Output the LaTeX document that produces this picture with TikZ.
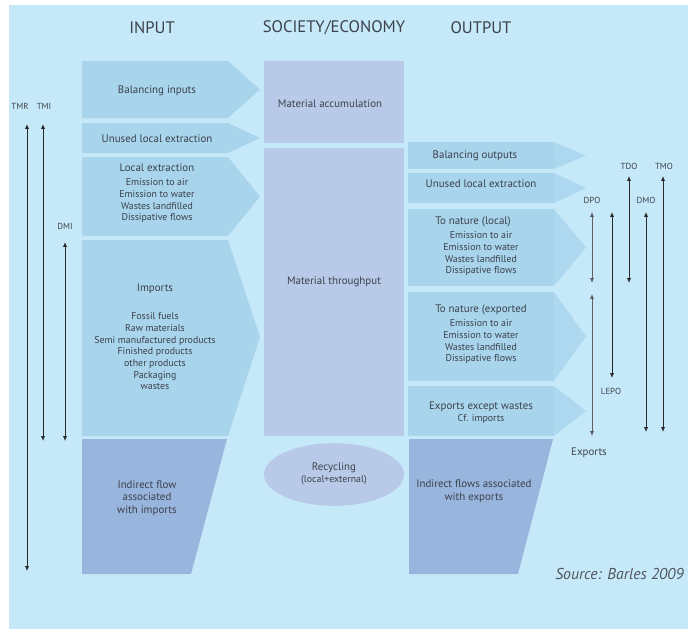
\documentclass[tikz,border=0pt]{standalone}
\usepackage{fontspec}
\setmainfont{PT Sans}
\usetikzlibrary{arrows.meta,shapes.geometric}
\definecolor{bgblue}{HTML}{C6E9F9}
\definecolor{flowblue}{HTML}{A8D4EC}
\definecolor{tipblue}{HTML}{AED8EF}
\definecolor{stockblue}{HTML}{B8CAE8}
\definecolor{indirectblue}{HTML}{98B5DD}
\definecolor{inktext}{HTML}{3C414B}
\definecolor{inkline}{HTML}{2A2A2A}
\begin{document}
\begin{tikzpicture}[x=0.75pt,y=-0.75pt,
  title/.style={text=inktext,font=\fontsize{12.5}{14}\selectfont},
  lbl/.style={text=inktext,font=\fontsize{8.2}{9.5}\selectfont,align=center,inner sep=0pt},
  sublist/.style={text=inktext,font=\fontsize{7.4}{8.75}\selectfont,align=center,inner sep=0pt},
  dimlbl/.style={text=inktext,font=\fontsize{6.6}{8}\selectfont,inner sep=0pt},
  flow/.style={fill=flowblue},
  outtip/.style={fill=tipblue},
  stock/.style={fill=stockblue},
  indirect/.style={fill=indirectblue},
  dimarrow/.style={draw=inkline,line width=0.75pt,
    {Latex[length=3.6pt,width=3.2pt]}-{Latex[length=3.6pt,width=3.2pt]}}]
\useasboundingbox (0,0) rectangle (688,629);
\clip (0,0) rectangle (688,629);
\fill[white] (0,0) rectangle (688,629);
\fill[bgblue] (9,5) rectangle (688,629);

% column headings
\node[title] (tin) at (152,28) {INPUT};
\node[title] (tsoc) at (334,28) {SOCIETY/ECONOMY};
\node[title] (tout) at (481,28) {OUTPUT};

% input flows
\fill[flow] (82,61) -- (228,61) -- (260,89.5) -- (228,118) -- (82,118) -- cycle;
\fill[flow] (82,123) -- (228,123) -- (260,138) -- (228,153) -- (82,153) -- cycle;
\fill[flow] (82,157) -- (228,157) -- (260,196.5) -- (228,236) -- (82,236) -- cycle;
\fill[flow] (82,240) -- (228,240) -- (260,337) -- (228,436) -- (82,436) -- cycle;
\fill[indirect] (82,439) -- (227,439) -- (191,574) -- (82,574) -- cycle;

\node[lbl] (balin) at (157,91) {Balancing inputs};
\node[lbl] (unusedin) at (157,139) {Unused local extraction};
\node[lbl] (locext) at (157,168) {Local extraction};
\node[sublist,anchor=north] (locextl) at (157,178.5) {Emission to air\\Emission to water\\Wastes landfilled\\Dissipative flows};
\node[lbl] (imports) at (155,289) {Imports};
\node[sublist,anchor=north] (importsl) at (155,312.5) {Fossil fuels\\Raw materials\\Semi manufactured products\\Finished products\\other products\\Packaging\\wastes};
\node[lbl] (indin) at (147,498) {Indirect flow\\associated\\with imports};

% society / economy stocks
\fill[stock] (264,61) rectangle (404,143);
\fill[stock] (264,148) rectangle (404,436);
\node[lbl] (accum) at (330,104) {Material accumulation};
\node[lbl] (through) at (334,282) {Material throughput};
\node[ellipse,fill=stockblue,minimum width=105pt,minimum height=47pt,inner sep=0pt] (recyc) at (334,474.5) {};
\node[lbl] (recyct) at (334,468) {Recycling};
\node[text=inktext,font=\fontsize{7.4}{8.5}\selectfont,inner sep=0pt] (recycs) at (334,480) {(local+external)};

% output flows
\fill[flow] (408,142) rectangle (554,169);
\fill[outtip] (554,142) -- (586,155.5) -- (554,169) -- cycle;
\fill[flow] (408,173) rectangle (554,203);
\fill[outtip] (554,173) -- (586,188) -- (554,203) -- cycle;
\fill[flow] (408,209) rectangle (554,286);
\fill[outtip] (554,209) -- (586,247.5) -- (554,286) -- cycle;
\fill[flow] (408,292) rectangle (554,381);
\fill[outtip] (554,292) -- (586,336.5) -- (554,381) -- cycle;
\fill[flow] (408,386) rectangle (554,436);
\fill[outtip] (554,386) -- (586,411) -- (554,436) -- cycle;
\fill[indirect] (409,439) -- (553,439) -- (518,574) -- (409,574) -- cycle;

\node[lbl] (balout) at (475,156) {Balancing outputs};
\node[lbl] (unusedout) at (481,184) {Unused local extraction};
\node[lbl] (natloc) at (473,222) {To nature (local)};
\node[sublist,anchor=north] (natlocl) at (481,231.5) {Emission to air\\Emission to water\\Wastes landfilled\\Dissipative flows};
\node[lbl] (natexp) at (481,310) {To nature (exported};
\node[sublist,anchor=north] (natexpl) at (481,319.5) {Emission to air\\Emission to water\\Wastes landfilled\\Dissipative flows};
\node[lbl] (expw) at (481,407) {Exports except wastes};
\node[sublist] (expcf) at (481,419) {Cf. imports};
\node[lbl] (indout) at (474,491.5) {Indirect flows associated\\with exports};

% indicator arrows, input side
\coordinate (tmrT) at (27,124);  \coordinate (tmrB) at (27,571);
\coordinate (tmiT) at (43,124);  \coordinate (tmiB) at (43,441);
\coordinate (dmiT) at (65,242);  \coordinate (dmiB) at (65,441);
\draw[dimarrow] (tmrB) -- (tmrT);
\draw[dimarrow] (tmiB) -- (tmiT);
\draw[dimarrow] (dmiB) -- (dmiT);
\node[dimlbl] (tmr) at (20,106) {TMR};
\node[dimlbl] (tmi) at (44,106) {TMI};
\node[dimlbl] (dmi) at (65,226) {DMI};

% indicator arrows, output side
\coordinate (dpoT) at (592,212);  \coordinate (dpoB) at (592,283);
\coordinate (lepoT) at (612,212); \coordinate (lepoB) at (612,378);
\coordinate (tdoT) at (629,176);  \coordinate (tdoB) at (629,283);
\coordinate (dmoT) at (646,212);  \coordinate (dmoB) at (646,432);
\coordinate (tmoT) at (663,176);  \coordinate (tmoB) at (663,432);
\coordinate (expT) at (592,294);  \coordinate (expB) at (592,436);
\draw[dimarrow,draw=inkline!75] (dpoB) -- (dpoT);
\draw[dimarrow] (lepoB) -- (lepoT);
\draw[dimarrow] (tdoB) -- (tdoT);
\draw[dimarrow] (dmoB) -- (dmoT);
\draw[dimarrow] (tmoB) -- (tmoT);
\draw[dimarrow,draw=inkline!75] (expB) -- (expT);
\node[dimlbl] (dpo) at (592,200) {DPO};
\node[dimlbl] (tdo) at (629,166) {TDO};
\node[dimlbl] (tmo) at (664,166) {TMO};
\node[dimlbl] (dmo) at (646,200) {DMO};
\node[dimlbl] (lepo) at (611,391) {LEPO};
\node[lbl] (exports) at (589,453) {Exports};

% source line
\node[anchor=west,text=inktext!90,font=\fontsize{11.8}{14}\itshape,inner sep=0pt] (src) at (555,574) {Source: Barles 2009};
\end{tikzpicture}
\end{document}
